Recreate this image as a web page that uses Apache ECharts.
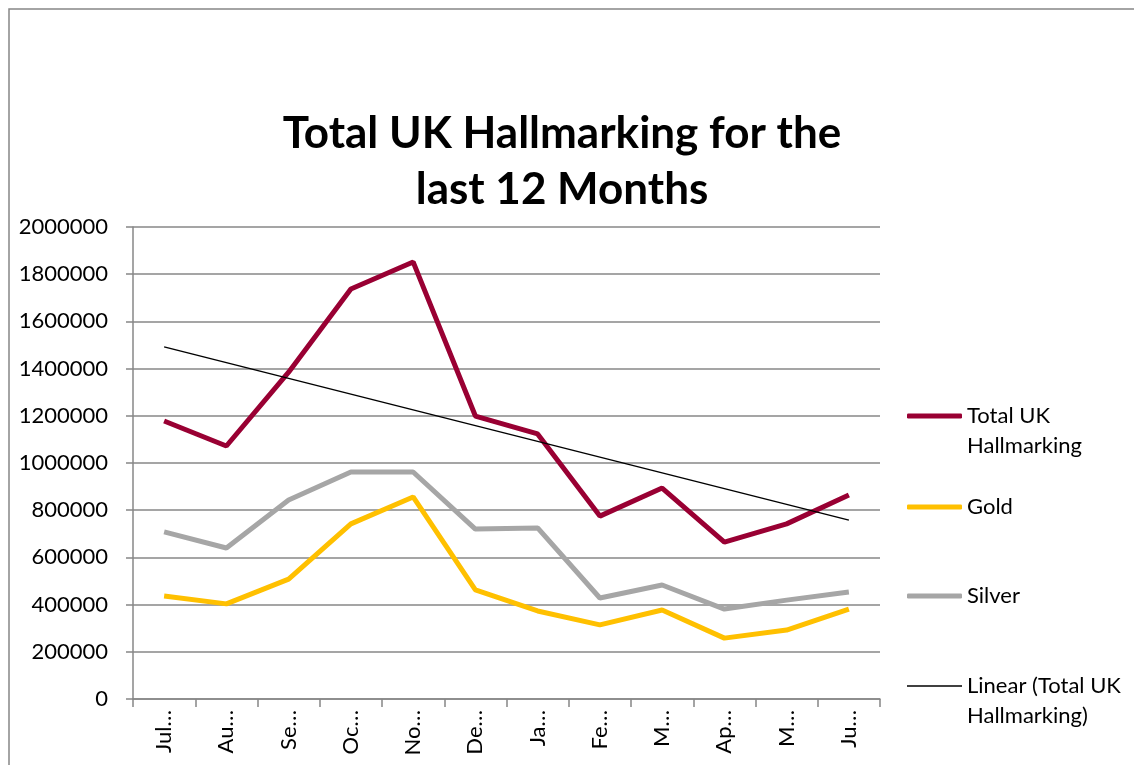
<!DOCTYPE html>
<html>
<head>
<meta charset="utf-8">
<script src="https://cdn.jsdelivr.net/npm/echarts@6/dist/echarts.min.js"></script>
<style>
html,body{margin:0;padding:0;background:#fff;}
#chart{width:1134px;height:765px;}
</style>
</head>
<body>
<div id="chart"></div>
<script>
const months = ['Jul…','Au…','Se…','Oc…','No…','De…','Ja…','Fe…','M…','Ap…','M…','Ju…'];
const totalUK = [1178000,1072000,1385000,1737000,1852000,1199000,1123000,775000,894000,665000,742000,864000];
const gold = [436000,403000,508000,742000,856000,462000,373000,314000,377000,258000,292000,381000];
const silver = [708000,640000,843000,962000,962000,720000,725000,428000,483000,381000,419000,453000];
// trend line end points (first and last month)
const trendStart = 1492000;
const trendEnd = 758000;
const trend = months.map((m,i)=> i===0 ? trendStart : (i===months.length-1 ? trendEnd : null));

const FONT = 'Lato, "Open Sans", sans-serif';
const GRAY = '#878787';
const names = ['Total UK Hallmarking','Gold','Silver','Linear (Total UK Hallmarking)'];
const legendLabels = [' \nTotal UK\nHallmarking','Gold','Silver',' \nLinear (Total UK\nHallmarking)'];
const legendColors = ['#990033','#FFC000','#A6A6A6','#000'];
const legendTops = [416,507,596,686];
const LH = 30;

const chart = echarts.init(document.getElementById('chart'));
chart.setOption({
  animation:false,
  backgroundColor:'#fff',
  title:{
    text:'Total UK Hallmarking for the\nlast 12 Months',
    left:557, top:101, padding:[5,5,5,5], textAlign:'center',
    textStyle:{fontFamily:FONT,fontSize:44,fontWeight:'bold',color:'#000',lineHeight:56}
  },
  graphic:[{type:'rect',shape:{x:9,y:9,width:1300,height:900},style:{fill:'none',stroke:GRAY,lineWidth:1.5},silent:true}],
  legend: names.map((n,i)=>{
    const lines = legendLabels[i].split('\n').length;
    return {
      data:[{name:n, icon: i===3 ? 'rect' : 'roundRect'}],
      orient:'vertical', left:907, top:legendTops[i]-LH*lines/2,
      itemWidth:55, itemHeight: i===3 ? 1.5 : 5, itemGap:0, padding:0,
      formatter:()=>legendLabels[i],
      textStyle:{fontFamily:FONT,fontSize:22,color:'#000',lineHeight:LH}
    };
  }),
  grid:{left:133,right:254,top:227,bottom:66},
  xAxis:{
    type:'category', data:months, boundaryGap:true,
    axisLine:{lineStyle:{color:GRAY,width:1.5}},
    axisTick:{show:true,length:8,alignWithLabel:false,lineStyle:{color:GRAY,width:1.5}},
    axisLabel:{rotate:90,interval:0,margin:11,fontFamily:FONT,fontSize:22,color:'#000'}
  },
  yAxis:{
    type:'value', min:0, max:2000000, interval:200000,
    axisLine:{show:true,lineStyle:{color:GRAY,width:1.5}},
    axisTick:{show:true,length:7,lineStyle:{color:GRAY,width:1.5}},
    splitLine:{lineStyle:{color:GRAY,width:1.5}},
    axisLabel:{margin:25,fontFamily:FONT,fontSize:22,color:'#000',formatter:v=>String(v)}
  },
  series:[
    {name:names[0],type:'line',data:totalUK,symbol:'none',lineStyle:{color:legendColors[0],width:5},itemStyle:{color:legendColors[0]}},
    {name:names[1],type:'line',data:gold,symbol:'none',lineStyle:{color:legendColors[1],width:5},itemStyle:{color:legendColors[1]}},
    {name:names[2],type:'line',data:silver,symbol:'none',lineStyle:{color:legendColors[2],width:5},itemStyle:{color:legendColors[2]}},
    {name:names[3],type:'line',data:trend,connectNulls:true,symbol:'none',lineStyle:{color:legendColors[3],width:1.5},itemStyle:{color:legendColors[3]}}
  ]
});
</script>
</body>
</html>
